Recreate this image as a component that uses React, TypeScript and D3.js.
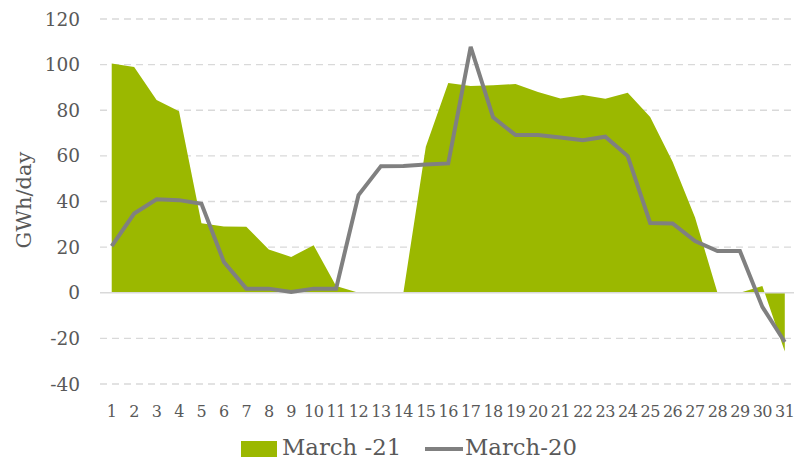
import React from "react";
import * as d3 from "d3";

const days: number[] = Array.from({ length: 31 }, (_, i) => i + 1);
const march21: number[] = [100.5, 99, 84.5, 79.6, 30.5, 29, 28.9, 19, 15.7, 20.8, 3, 0, 0, 0, 64, 92, 90.6, 91, 91.5, 88, 85.2, 86.7, 85, 87.7, 77, 57.4, 33, 0, 0, 3, -25.8];
const march20: number[] = [20.4, 34.7, 41, 40.6, 39, 13.5, 1.8, 1.8, 0.3, 1.8, 1.8, 42.8, 55.5, 55.6, 56.2, 56.7, 107.8, 76.9, 69.1, 69.1, 68.1, 66.9, 68.4, 59.9, 30.6, 30.4, 22.7, 18.3, 18.3, -6.2, -21.6];
const yTicks: number[] = [-40, -20, 0, 20, 40, 60, 80, 100, 120];
const seriesNames: string[] = ["March -21", "March-20"];

const W = 794;
const H = 459;
const FONT = "'DejaVu Serif', serif";
const TEXT = "#595959";
const GREEN = "#9bb800";
const GREY = "#808080";

export default function App() {
  const x = d3.scaleBand<number>().domain(days).range([100.5, 796]);
  const cx = (d: number) => (x(d) as number) + x.bandwidth() / 2;
  const y = d3.scaleLinear().domain([-40, 120]).range([384, 19]);

  const area = d3
    .area<number>()
    .x((_, i) => cx(days[i]))
    .y0(y(0))
    .y1((v) => y(v));
  const line = d3
    .line<number>()
    .x((_, i) => cx(days[i]))
    .y((v) => y(v));

  return (
    <svg width={W} height={H} style={{ position: "absolute", left: 0, top: 0, background: "#fff" }}>
      {yTicks.map((t) => (
        <g key={t}>
          {t !== 0 && (
            <line x1={100} x2={W} y1={y(t)} y2={y(t)} stroke="#d9d9d9" strokeWidth={1.3} strokeDasharray="7,5" />
          )}
          <text
            x={80}
            y={y(t)}
            textAnchor="end"
            dominantBaseline="central"
            fontFamily={FONT}
            fontSize={18.5}
            fill={TEXT}
          >
            {t}
          </text>
        </g>
      ))}
      <path d={area(march21) as string} fill={GREEN} />
      <line x1={100} x2={W} y1={y(0)} y2={y(0)} stroke="#d9d9d9" strokeWidth={1.3} />
      <path d={line(march20) as string} fill="none" stroke={GREY} strokeWidth={4} strokeLinejoin="miter" />
      {days.map((d) => (
        <text key={d} x={cx(d)} y={417} textAnchor="middle" fontFamily={FONT} fontSize={16} fill={TEXT} letterSpacing={-0.5}>
          {d}
        </text>
      ))}
      <text
        transform={`translate(24,200) rotate(-90)`}
        textAnchor="middle"
        dominantBaseline="central"
        fontFamily={FONT}
        fontSize={21}
        fill={TEXT}
      >
        GWh/day
      </text>
      <rect x={241} y={441} width={36} height={16} fill={GREEN} />
      <text x={282} y={455} fontFamily={FONT} fontSize={22.8} fill={TEXT}>
        {seriesNames[0]}
      </text>
      <line x1={425} x2={463} y1={449} y2={449} stroke={GREY} strokeWidth={4} />
      <text x={465} y={455} fontFamily={FONT} fontSize={22.8} fill={TEXT}>
        {seriesNames[1]}
      </text>
    </svg>
  );
}
